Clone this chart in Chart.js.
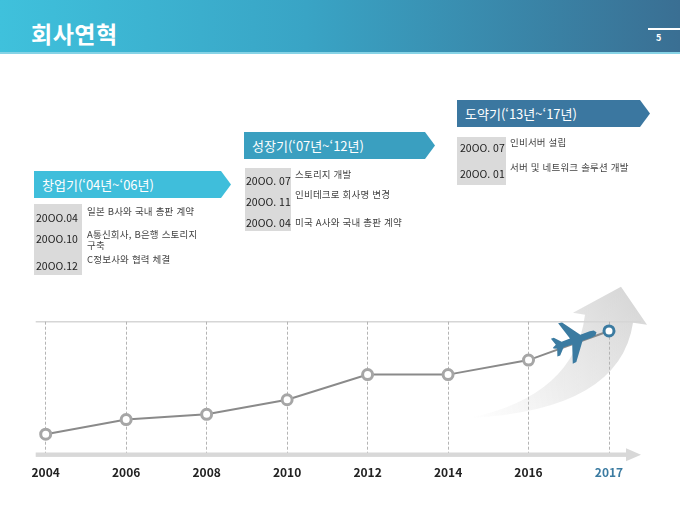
<!DOCTYPE html>
<html lang="ko">
<head>
<meta charset="utf-8">
<script src="https://cdn.jsdelivr.net/npm/chart.js@4.4.1/dist/chart.umd.min.js"></script>
<style>
  html,body{margin:0;padding:0;background:#fff;}
  body{width:680px;height:510px;overflow:hidden;position:relative;font-family:"Noto Sans CJK KR","Noto Sans",sans-serif;}
  #chart{position:absolute;left:0;top:0;z-index:0;}
  .ov{position:absolute;z-index:1;white-space:nowrap;}
  #hdr{left:0;top:0;width:680px;height:52px;background:linear-gradient(90deg,#3fc1dc 0%,#39a4c5 45%,#3a6f93 100%);border-bottom:2px solid #86d3e6;}
  #title{left:31px;top:17px;font-size:23px;line-height:32px;font-weight:bold;color:#fff;letter-spacing:0.5px;}
  #pgline{left:648px;top:28px;width:32px;height:2px;background:#fff;}
  #pgno{left:656px;top:32px;font-size:9px;line-height:12px;font-weight:bold;color:#fff;}
  .ban{height:27px;line-height:27px;color:#fff;font-size:13px;padding-left:8px;box-sizing:border-box;
       clip-path:polygon(0 0,calc(100% - 10px) 0,100% 50%,calc(100% - 10px) 100%,0 100%);}
  .gray{background:#dadada;}
  .dt{font-size:10.5px;line-height:14px;color:#222;}
  .ds{font-size:9.5px;line-height:13px;color:#444;letter-spacing:0.2px;}
</style>
</head>
<body>
<canvas id="chart" width="680" height="510"></canvas>

<div class="ov" id="hdr"></div>
<div class="ov" id="title">회사연혁</div>
<div class="ov" id="pgline"></div>
<div class="ov" id="pgno">5</div>

<!-- 창업기 -->
<div class="ov ban" style="left:34px;top:171px;width:197px;background:#3fbedb;">창업기(‘04년~‘06년)</div>
<div class="ov gray" style="left:34px;top:204px;width:48px;height:71px;"></div>
<div class="ov dt" style="left:36px;top:211px;">20OO.04</div>
<div class="ov dt" style="left:36px;top:232px;">20OO.10</div>
<div class="ov dt" style="left:36px;top:259px;">20OO.12</div>
<div class="ov ds" style="left:87px;top:205px;">일본 B사와 국내 총판 계약</div>
<div class="ov ds" style="left:87px;top:228px;">A통신회사, B은행 스토리지</div>
<div class="ov ds" style="left:87px;top:239px;">구축</div>
<div class="ov ds" style="left:87px;top:253px;">C정보사와 협력 체결</div>

<!-- 성장기 -->
<div class="ov ban" style="left:244px;top:132px;width:191px;background:#3a9fc0;">성장기(‘07년~‘12년)</div>
<div class="ov gray" style="left:245px;top:168px;width:46px;height:63px;"></div>
<div class="ov dt" style="left:246px;top:174px;">20OO. 07</div>
<div class="ov dt" style="left:246px;top:195px;">20OO. 11</div>
<div class="ov dt" style="left:246px;top:216px;">20OO. 04</div>
<div class="ov ds" style="left:295px;top:168px;">스토리지 개발</div>
<div class="ov ds" style="left:295px;top:188px;">인비테크로 회사명 변경</div>
<div class="ov ds" style="left:295px;top:216px;">미국 A사와 국내 총판 계약</div>

<!-- 도약기 -->
<div class="ov ban" style="left:457px;top:100px;width:193px;background:#3b77a0;">도약기(‘13년~‘17년)</div>
<div class="ov gray" style="left:457px;top:137px;width:49px;height:48px;"></div>
<div class="ov dt" style="left:460px;top:141px;">20OO. 07</div>
<div class="ov dt" style="left:460px;top:167px;">20OO. 01</div>
<div class="ov ds" style="left:510px;top:136px;">인비서버 설립</div>
<div class="ov ds" style="left:510px;top:161px;">서버 및 네트워크 솔루션 개발</div>

<script>
// ---- data ----
const years = ['2004', '2006', '2008', '2010', '2012', '2014', '2016', '2017'];
const growth = [15, 26, 30, 41, 60, 60, 71, 93];
const yMin = 0;
const yMax = 100;

// ---- colours ----
const GRAY_PT = '#a6a6a6';
const BLUE = '#3b7ba1';
const pointColors = years.map((y, i) => i === years.length - 1 ? BLUE : GRAY_PT);

function planePath(ctx) {
  const upper = [
    [22, 0], [20, -2.6], [16, -3.3], [6, -3.3], [-7, -21], [-11, -21.5],
    [-5, -3.3], [-14, -3], [-20, -9.5], [-23, -9.5], [-20.5, -2], [-24, -0.5]
  ];
  ctx.beginPath();
  ctx.moveTo(upper[0][0], upper[0][1]);
  for (let i = 1; i < upper.length; i++) ctx.lineTo(upper[i][0], upper[i][1]);
  for (let i = upper.length - 1; i >= 0; i--) ctx.lineTo(upper[i][0], -upper[i][1]);
  ctx.closePath();
}

const decor = {
  id: 'decor',
  beforeDraw(chart) {
    const ctx = chart.ctx;
    const xs = chart.scales.x, ys = chart.scales.y;
    const xLast = xs.getPixelForValue(years.length - 1);
    const top = ys.getPixelForValue(yMax);
    const bot = ys.getPixelForValue(yMin);
    // swoosh arrow
    ctx.save();
    const g = ctx.createLinearGradient(xLast - 140, bot - 36, xLast + 10, top - 36);
    g.addColorStop(0, 'rgba(225,225,225,0)');
    g.addColorStop(0.45, 'rgba(222,222,222,0.55)');
    g.addColorStop(1, 'rgba(214,214,214,0.95)');
    ctx.fillStyle = g;
    ctx.beginPath();
    ctx.moveTo(xLast - 139, bot - 36);
    ctx.quadraticCurveTo(xLast - 34, bot - 59, xLast - 24, top - 7);
    ctx.lineTo(xLast - 36, top - 9);
    ctx.lineTo(xLast + 12, top - 35);
    ctx.lineTo(xLast + 38, top + 3);
    ctx.lineTo(xLast + 24, top + 1);
    ctx.quadraticCurveTo(xLast + 11, bot - 44, xLast - 139, bot - 36);
    ctx.closePath();
    ctx.fill();
    // top line
    ctx.strokeStyle = '#d6d6d6';
    ctx.lineWidth = 1.5;
    ctx.beginPath();
    ctx.moveTo(chart.chartArea.left - 10, top);
    ctx.lineTo(xLast + 32, top);
    ctx.stroke();
    ctx.restore();
  },
  beforeDatasetsDraw(chart) {
    const ctx = chart.ctx;
    const xs = chart.scales.x, ys = chart.scales.y;
    const xLast = xs.getPixelForValue(years.length - 1);
    const bot = ys.getPixelForValue(yMin) + 0.7;
    ctx.save();
    ctx.fillStyle = '#d8d8d8';
    ctx.fillRect(chart.chartArea.left - 10, bot - 2.2, xLast + 19 - (chart.chartArea.left - 10), 4.4);
    ctx.beginPath();
    ctx.moveTo(xLast + 17, bot - 6.5);
    ctx.lineTo(xLast + 32, bot);
    ctx.lineTo(xLast + 17, bot + 6.5);
    ctx.closePath();
    ctx.fill();
    ctx.restore();
  },
  afterDatasetsDraw(chart) {
    const ctx = chart.ctx;
    const pts = chart.getDatasetMeta(0).data;
    const a = pts[pts.length - 2], b = pts[pts.length - 1];
    const ang = Math.atan2(b.y - a.y, b.x - a.x);
    const t = 0.6;
    const cx = a.x + (b.x - a.x) * t, cy = a.y + (b.y - a.y) * t;
    ctx.save();
    ctx.translate(cx, cy);
    ctx.rotate(ang);
    ctx.translate(0, -3);
    ctx.fillStyle = BLUE;
    planePath(ctx);
    ctx.fill();
    ctx.restore();
  }
};

new Chart(document.getElementById('chart'), {
  type: 'line',
  data: {
    labels: years,
    datasets: [{
      data: growth,
      borderColor: '#8a8a8a',
      borderWidth: 2,
      tension: 0,
      pointRadius: 5,
      pointBorderWidth: 3,
      pointBackgroundColor: '#ffffff',
      pointBorderColor: pointColors,
      clip: false
    }]
  },
  options: {
    responsive: false,
    animation: false,
    devicePixelRatio: 1,
    layout: { padding: { left: 45.7, right: 71, top: 321.7, bottom: 0 } },
    plugins: { legend: { display: false }, tooltip: { enabled: false } },
    scales: {
      x: {
        type: 'category',
        offset: false,
        afterFit(scale) { scale.height = 56; },
        grid: { display: true, color: '#b4b4b4', lineWidth: 1, drawTicks: false },
        border: { display: false, dash: [3, 2] },
        ticks: {
          padding: 11,
          maxRotation: 0,
          autoSkip: false,
          font: { family: '"Noto Sans CJK KR", "Noto Sans", sans-serif', size: 12, weight: 'bold' },
          color: (c) => c.index === years.length - 1 ? BLUE : '#222222'
        }
      },
      y: {
        display: false,
        min: yMin,
        max: yMax
      }
    }
  },
  plugins: [decor]
});
</script>
</body>
</html>
